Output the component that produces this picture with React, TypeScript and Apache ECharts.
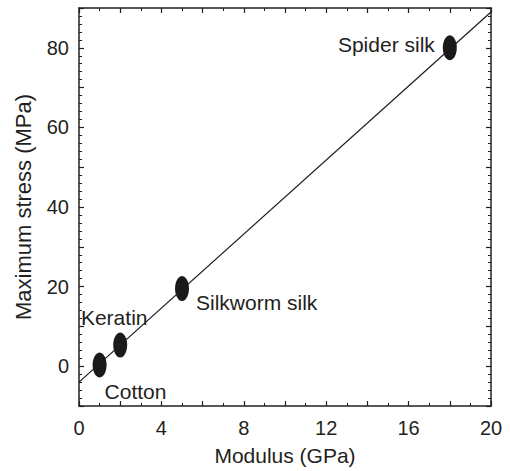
import React, { useEffect, useRef } from "react";
import * as echarts from "echarts";

const materials = ["Cotton", "Keratin", "Silkworm silk", "Spider silk"];
const modulusGPa = [1, 2, 5, 18];
const maxStressMPa = [0.3, 5.3, 19.5, 80];
const fitLineX = [0, 20];
const fitLineY = [-4, 89];
const xTickLabels = [0, 4, 8, 12, 16, 20];
const yTickLabels = [0, 20, 40, 60, 80];

const FONT = "'Liberation Sans', Arial, Helvetica, sans-serif";
const INK = "#231f20";

const labelStyles: Record<string, any> = {
  Cotton: { position: "right", distance: 0, offset: [-2, 26] },
  Keratin: { position: "inside", offset: [-6, -28] },
  "Silkworm silk": { position: "right", distance: 7, offset: [0, 14] },
  "Spider silk": { position: "left", distance: 8, offset: [0, -3] },
};

export default function App() {
  const ref = useRef<HTMLDivElement>(null);
  useEffect(() => {
    if (!ref.current) return;
    const chart = echarts.init(ref.current, null, { renderer: "svg" });
    const axisCommon = {
      type: "value",
      axisLine: { show: true, onZero: false, lineStyle: { color: INK, width: 1.5 } },
      axisTick: { show: true, inside: true, length: 5, lineStyle: { color: INK, width: 1.2 } },
      minorTick: { show: true, length: 3, lineStyle: { color: INK, width: 1 } },
      splitLine: { show: false },
      minorSplitLine: { show: false },
    };
    const points = materials.map((name, i) => ({
      name,
      value: [modulusGPa[i], maxStressMPa[i]],
      label: {
        show: true,
        formatter: name,
        color: INK,
        fontSize: 21,
        fontFamily: FONT,
        align: labelStyles[name].position === "inside" ? "center" : undefined,
        ...labelStyles[name],
      },
    }));
    chart.setOption({
      animation: false,
      backgroundColor: "#ffffff",
      grid: { left: 79, right: 19, top: 8, bottom: 61, containLabel: false },
      xAxis: [
        {
          ...axisCommon,
          min: 0,
          max: 20,
          interval: 2,
          minorTick: { ...axisCommon.minorTick, splitNumber: 2 },
          axisLabel: {
            color: INK,
            fontSize: 20,
            fontFamily: FONT,
            margin: 12,
            formatter: (v: number) => (xTickLabels.includes(v) ? String(v) : ""),
          },
          name: "Modulus (GPa)",
          nameLocation: "middle",
          nameGap: 39,
          nameTextStyle: { color: INK, fontSize: 21, fontFamily: FONT },
        },
        {
          ...axisCommon,
          position: "top",
          min: 0,
          max: 20,
          interval: 2,
          minorTick: { ...axisCommon.minorTick, splitNumber: 2 },
          axisLabel: { show: false },
        },
      ],
      yAxis: [
        {
          ...axisCommon,
          min: -10,
          max: 90,
          interval: 10,
          minorTick: { ...axisCommon.minorTick, splitNumber: 5 },
          axisLabel: {
            color: INK,
            fontSize: 20,
            fontFamily: FONT,
            margin: 10,
            formatter: (v: number) => (yTickLabels.includes(v) ? String(v) : ""),
          },
          name: "Maximum stress (MPa)",
          nameLocation: "middle",
          nameGap: 45,
          nameTextStyle: { color: INK, fontSize: 22, fontFamily: FONT },
        },
        {
          ...axisCommon,
          position: "right",
          min: -10,
          max: 90,
          interval: 10,
          minorTick: { ...axisCommon.minorTick, splitNumber: 5 },
          axisLabel: { show: false },
        },
      ],
      series: [
        {
          type: "line",
          data: fitLineX.map((x, i) => [x, fitLineY[i]]),
          showSymbol: false,
          symbol: "none",
          lineStyle: { color: INK, width: 1.3 },
          silent: true,
          z: 2,
        },
        {
          type: "scatter",
          data: points,
          symbol: "circle",
          symbolSize: [14, 25],
          itemStyle: { color: "#1a1a1a", opacity: 1 },
          z: 3,
        },
      ],
    });
    return () => chart.dispose();
  }, []);
  return (
    <div
      ref={ref}
      style={{ position: "fixed", left: 0, top: 0, width: 510, height: 471 }}
    />
  );
}
